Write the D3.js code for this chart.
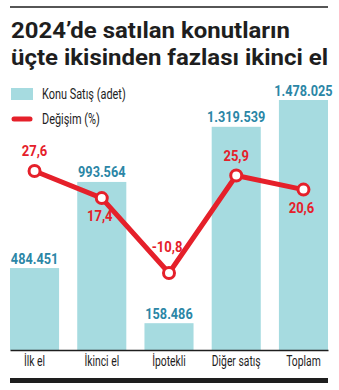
<!DOCTYPE html>
<html><head><meta charset="utf-8">
<script src="https://cdn.jsdelivr.net/npm/d3@7"></script>
<style>
html,body{margin:0;padding:0;background:#fff;}
svg{display:block;}
</style></head>
<body>
<svg id="c" width="339" height="390"></svg>
<script>
const titleLines = ["2024’de satılan konutların", "üçte ikisinden fazlası ikinci el"];
const categories = ["İlk el", "İkinci el", "İpotekli", "Diğer satış", "Toplam"];
const salesValues = [484451, 993564, 158486, 1319539, 1478025];
const salesLabels = ["484.451", "993.564", "158.486", "1.319.539", "1.478.025"];
const changeValues = [27.6, 17.4, -10.8, 25.9, 20.6];
const changeLabels = ["27,6", "17,4", "-10,8", "25,9", "20,6"];
const changeLabelSide = ["above", "below", "above-far", "above", "below"];
const legendItems = ["Konu Satış (adet)", "Değişim (%)"];

const barColor = "#a6dbe0", valueColor = "#2b86a6", red = "#e5202a", ink = "#1e1e1e";
const font = "Roboto, 'Noto Sans', sans-serif";
const svg = d3.select("#c");

// position text with horizontal condensing
function place(sel, fx, fy, sx) {
  sel.attr("x", 0).attr("y", 0)
     .attr("transform", (d, i) => `translate(${fx(d, i)},${fy(d, i)}) scale(${sx},1)`);
}

// top rule
svg.append("line").attr("x1", 10).attr("x2", 328).attr("y1", 7).attr("y2", 7)
  .attr("stroke", ink).attr("stroke-width", 1.5);

// title
const titleWidths = [279, 317];
svg.selectAll("text.title").data(titleLines).join("text").attr("class", "title")
  .attr("x", 11).attr("y", (d, i) => 38 + i * 27)
  .attr("font-family", font).attr("font-weight", "bold").attr("font-size", 22.5)
  .attr("textLength", (d, i) => titleWidths[i]).attr("lengthAdjust", "spacingAndGlyphs")
  .attr("fill", ink).text(d => d);

// legend
const lg = svg.append("g");
lg.append("rect").attr("x", 11).attr("y", 88).attr("width", 22).attr("height", 12).attr("fill", barColor);
lg.append("line").attr("x1", 14).attr("x2", 30).attr("y1", 119).attr("y2", 119)
  .attr("stroke", red).attr("stroke-width", 5).attr("stroke-linecap", "round");
lg.selectAll("text").data(legendItems).join("text")
  .attr("font-family", font).attr("font-size", 14).attr("fill", ink).text(d => d)
  .call(place, () => 42, (d, i) => 99 + i * 25, 0.78);

const x = d3.scaleBand().domain(categories).range([10, 328]).paddingInner(0.27).paddingOuter(0);
const y = d3.scaleLinear().domain([0, 1478025]).range([350, 100]);
const yl = d3.scaleLinear().domain([-10.8, 27.6]).range([273, 171]);

const data = categories.map((c, i) => ({c, v: salesValues[i], vl: salesLabels[i], p: changeValues[i], pl: changeLabels[i], side: changeLabelSide[i]}));
const cx = d => x(d.c) + x.bandwidth() / 2;

svg.selectAll("rect.bar").data(data).join("rect").attr("class", "bar")
  .attr("x", d => x(d.c)).attr("width", x.bandwidth())
  .attr("y", d => y(d.v)).attr("height", d => y(0) - y(d.v)).attr("fill", barColor);

svg.selectAll("text.val").data(data).join("text").attr("class", "val")
  .attr("text-anchor", "middle").attr("font-family", font).attr("font-weight", "bold")
  .attr("font-size", 15.5).attr("fill", valueColor).text(d => d.vl)
  .call(place, cx, d => y(d.v) - 4.5, 0.82);

// axis
const axis = svg.append("g").attr("transform", "translate(0,350)")
  .call(d3.axisBottom(x).tickSize(0).tickPadding(0));
axis.select(".domain").attr("stroke", ink).attr("stroke-width", 1.5);
axis.selectAll(".tick text").attr("font-family", font).attr("font-size", 14).attr("fill", ink)
  .attr("dy", null).attr("x", 0).attr("y", 0).attr("transform", "translate(0,16) scale(0.74,1)");

svg.append("rect").attr("x", 10).attr("y", 378).attr("width", 318).attr("height", 5).attr("fill", ink);

// line
svg.append("path").datum(data)
  .attr("d", d3.line().x(cx).y(d => yl(d.p)))
  .attr("fill", "none").attr("stroke", red).attr("stroke-width", 5).attr("stroke-linejoin", "round");
svg.selectAll("circle.pt").data(data).join("circle").attr("class", "pt")
  .attr("cx", cx).attr("cy", d => yl(d.p)).attr("r", 5.5)
  .attr("fill", "#fff").attr("stroke", red).attr("stroke-width", 3);
const labelDy = {"above": -15, "above-far": -21, "below": 23};
svg.selectAll("text.pct").data(data).join("text").attr("class", "pct")
  .attr("text-anchor", "middle").attr("font-family", font).attr("font-weight", "bold")
  .attr("font-size", 15.5).attr("fill", red).text(d => d.pl)
  .call(place, d => cx(d) - (d.side === "above" ? 0 : 2), d => yl(d.p) + labelDy[d.side], 0.84);
</script>
</body></html>
